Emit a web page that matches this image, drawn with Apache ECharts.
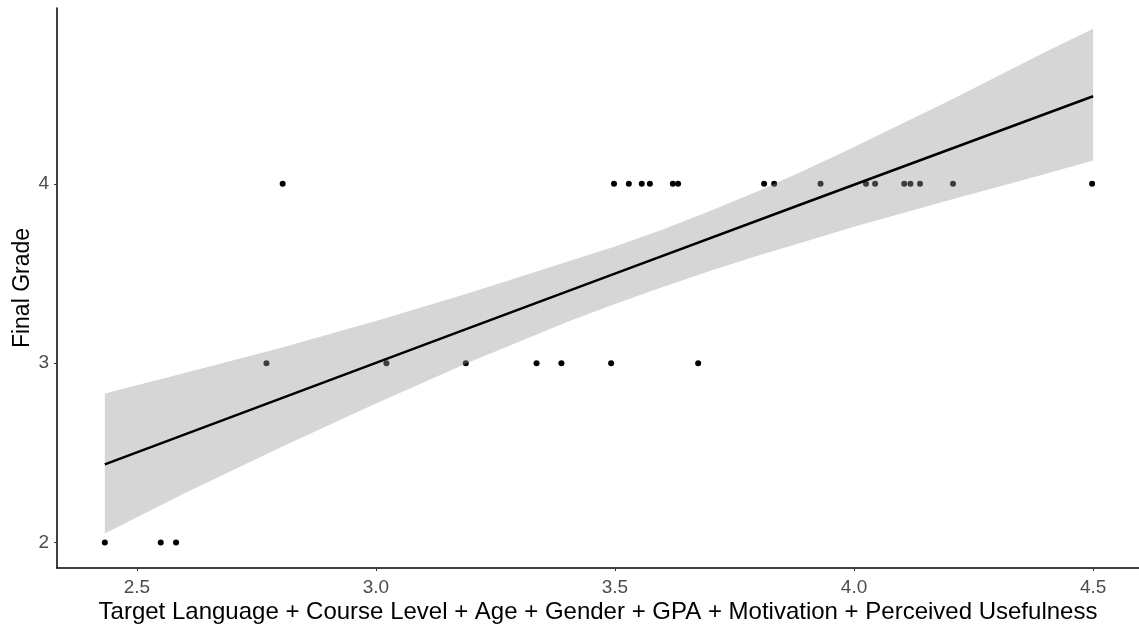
<!DOCTYPE html>
<html>
<head>
<meta charset="utf-8">
<script src="https://cdn.jsdelivr.net/npm/echarts@6/dist/echarts.min.js"></script>
<style>
  html, body { margin: 0; padding: 0; background: #fff; }
  #main { width: 1139px; height: 632px; }
</style>
</head>
<body>
<div id="main"></div>
<script>
// observed points (predictor composite score, final grade)
const pointX = [2.433, 2.550, 2.582, 2.771, 2.805, 3.022, 3.188, 3.336, 3.388, 3.492,
  3.498, 3.529, 3.556, 3.573, 3.621, 3.632, 3.674, 3.812, 3.833, 3.930,
  4.025, 4.044, 4.105, 4.118, 4.138, 4.207, 4.498];
const pointY = [2, 2, 2, 3, 4, 3, 3, 3, 3, 3,
  4, 4, 4, 4, 4, 4, 3, 4, 4, 4,
  4, 4, 4, 4, 4, 4, 4];

// fitted line and confidence band
const fitX = [2.433, 3.155, 3.504, 3.887, 4.5];
const fitY = [2.436, 3.156, 3.503, 3.883, 4.488];
const bandX = [2.433, 2.6, 2.8, 3.0, 3.2, 3.4, 3.5, 3.6, 3.7, 3.8, 3.9, 4.0, 4.2, 4.4, 4.5];
const bandLow = [2.05, 2.275, 2.53, 2.775, 3.01, 3.23, 3.33, 3.425, 3.515, 3.60, 3.68, 3.76, 3.91, 4.055, 4.13];
const bandHigh = [2.831, 2.945, 3.085, 3.235, 3.395, 3.565, 3.65, 3.745, 3.85, 3.96, 4.08, 4.205, 4.465, 4.735, 4.865];

const xTicks = [2.5, 3.0, 3.5, 4.0, 4.5];
const yTicks = [2, 3, 4];

const chart = echarts.init(document.getElementById("main"));

const font = "Liberation Sans, Arial, sans-serif";

const option = {
  animation: false,
  backgroundColor: "#ffffff",
  grid: { left: 57, right: 0, top: 8, bottom: 64, outerBoundsMode: "none", containLabel: false },
  xAxis: {
    type: "value",
    min: 2.333,
    max: 4.596,
    name: "Target Language + Course Level + Age + Gender + GPA + Motivation + Perceived Usefulness",
    nameLocation: "middle",
    nameGap: 32,
    nameMoveOverlap: false,
    nameTextStyle: { color: "#000", fontSize: 24, fontFamily: font },
    axisLine: { show: true, onZero: false, lineStyle: { color: "#000", width: 1.5 } },
    axisTick: {
      show: true, length: 3, lineStyle: { color: "#333", width: 1 },
      customValues: xTicks
    },
    axisLabel: {
      color: "#4d4d4d", fontSize: 19, fontFamily: font, margin: 10,
      customValues: xTicks,
      formatter: (v) => v.toFixed(1)
    },
    splitLine: { show: false }
  },
  yAxis: {
    type: "value",
    min: 1.858,
    max: 4.98,
    name: "Final Grade",
    nameLocation: "middle",
    nameGap: 23,
    nameMoveOverlap: false,
    nameTextStyle: { color: "#000", fontSize: 23, fontFamily: font },
    axisLine: { show: true, onZero: false, lineStyle: { color: "#000", width: 1.5 } },
    axisTick: {
      show: true, length: 3, lineStyle: { color: "#333", width: 1 },
      customValues: yTicks
    },
    axisLabel: {
      color: "#4d4d4d", fontSize: 19, fontFamily: font, margin: 8,
      customValues: yTicks
    },
    splitLine: { show: false }
  },
  series: [
    {
      type: "scatter",
      data: pointX.map((x, i) => [x, pointY[i]]),
      symbolSize: 6,
      itemStyle: { color: "#000", opacity: 1 },
      z: 2
    },
    {
      // confidence band as one polygon through the axes' scales
      type: "custom",
      data: [0],
      renderItem: (params, api) => {
        const pts = [];
        bandX.forEach((x, i) => pts.push(api.coord([x, bandHigh[i]])));
        for (let i = bandX.length - 1; i >= 0; i--) pts.push(api.coord([bandX[i], bandLow[i]]));
        return {
          type: "polygon",
          shape: { points: pts },
          style: { fill: "rgba(153,153,153,0.4)" }
        };
      },
      silent: true,
      z: 3
    },
    {
      type: "line",
      data: fitX.map((x, i) => [x, fitY[i]]),
      symbol: "none",
      lineStyle: { color: "#000", width: 2.5 },
      z: 4
    }
  ]
};

chart.setOption(option);
</script>
</body>
</html>
